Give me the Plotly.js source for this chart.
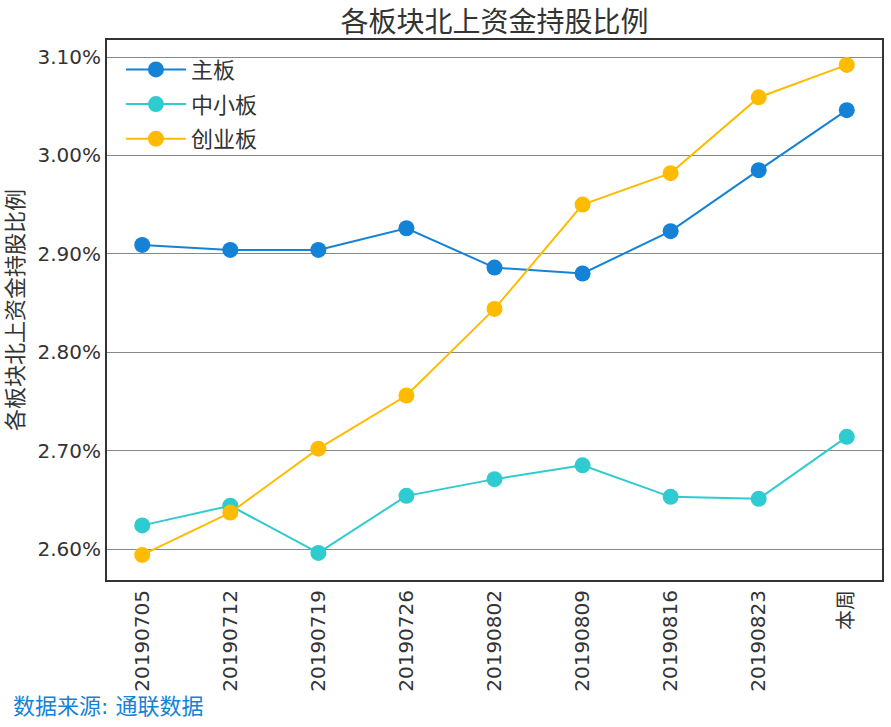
<!DOCTYPE html>
<html><head><meta charset="utf-8">
<script src="https://cdn.plot.ly/plotly-3.0.1.min.js"></script>
<style>body{margin:0;background:#fff}#c{width:891px;height:727px}</style>
</head><body><div id="c"></div>
<script>
const categories = ['20190705','20190712','20190719','20190726','20190802','20190809','20190816','20190823','本周'];
const mainBoard = [2.909, 2.904, 2.904, 2.926, 2.886, 2.880, 2.923, 2.985, 3.046];
const smeBoard = [2.624, 2.644, 2.596, 2.654, 2.671, 2.685, 2.653, 2.651, 2.714];
const chinext = [2.594, 2.637, 2.702, 2.756, 2.844, 2.950, 2.982, 3.059, 3.092];
const yTickVals = [2.6, 2.7, 2.8, 2.9, 3.0, 3.1];
const yTickText = ['2.60%','2.70%','2.80%','2.90%','3.00%','3.10%'];
const seriesNames = ['主板','中小板','创业板'];
const colors = ['#1482d6','#2ecbd0','#ffbb00'];
const font = '"DejaVu Sans", "Noto Sans CJK SC", sans-serif';
const xIdx = categories.map((_, i) => i);
const traces = [mainBoard, smeBoard, chinext].map((v, i) => ({
  x: xIdx, y: v, name: seriesNames[i], legendgroup: 'g' + i, type: 'scatter', mode: 'lines+markers',
  line: {color: colors[i], width: 2}, marker: {color: colors[i], size: 16}
}));
const layout = {
  width: 891, height: 727,
  margin: {l: 107, r: 9, t: 40, b: 147},
  paper_bgcolor: '#fff', plot_bgcolor: '#fff',
  font: {family: font, color: '#333', size: 20},
  title: {text: '各板块北上资金持股比例', font: {size: 28, color: '#333', family: font}, x: 0.555, xanchor: 'center', y: 0.97, yanchor: 'middle'},
  showlegend: true,
  legend: {x: 0.018, y: 0.984, xanchor: 'left', yanchor: 'top', bgcolor: 'rgba(0,0,0,0)', font: {size: 22, color: '#333', family: font}, itemwidth: 60, traceorder: 'grouped', tracegroupgap: 3},
  xaxis: {
    range: [-0.4, 8.4], tickmode: 'array', tickvals: xIdx, ticktext: categories,
    tickangle: -90, showgrid: false, zeroline: false,
    showline: true, mirror: true, linecolor: '#333', linewidth: 2,
    ticks: '', tickfont: {size: 20, color: '#333', family: font}
  },
  yaxis: {
    range: [2.5685, 3.1173], tickmode: 'array', tickvals: yTickVals, ticktext: yTickText,
    showgrid: true, gridcolor: '#888', gridwidth: 1, zeroline: false,
    showline: true, mirror: true, linecolor: '#333', linewidth: 2,
    ticks: '', tickfont: {size: 20, color: '#333', family: font},
    title: {text: '各板块北上资金持股比例', font: {size: 22, color: '#333', family: font}, standoff: 8}
  },
  annotations: [{
    text: '数据来源: 通联数据', xref: 'paper', yref: 'paper', x: -0.124, y: -0.235,
    xanchor: 'left', yanchor: 'middle', showarrow: false,
    font: {size: 22, color: '#1482d6', family: font}
  }]
};
Plotly.newPlot('c', traces, layout, {displayModeBar: false});
</script></body></html>
